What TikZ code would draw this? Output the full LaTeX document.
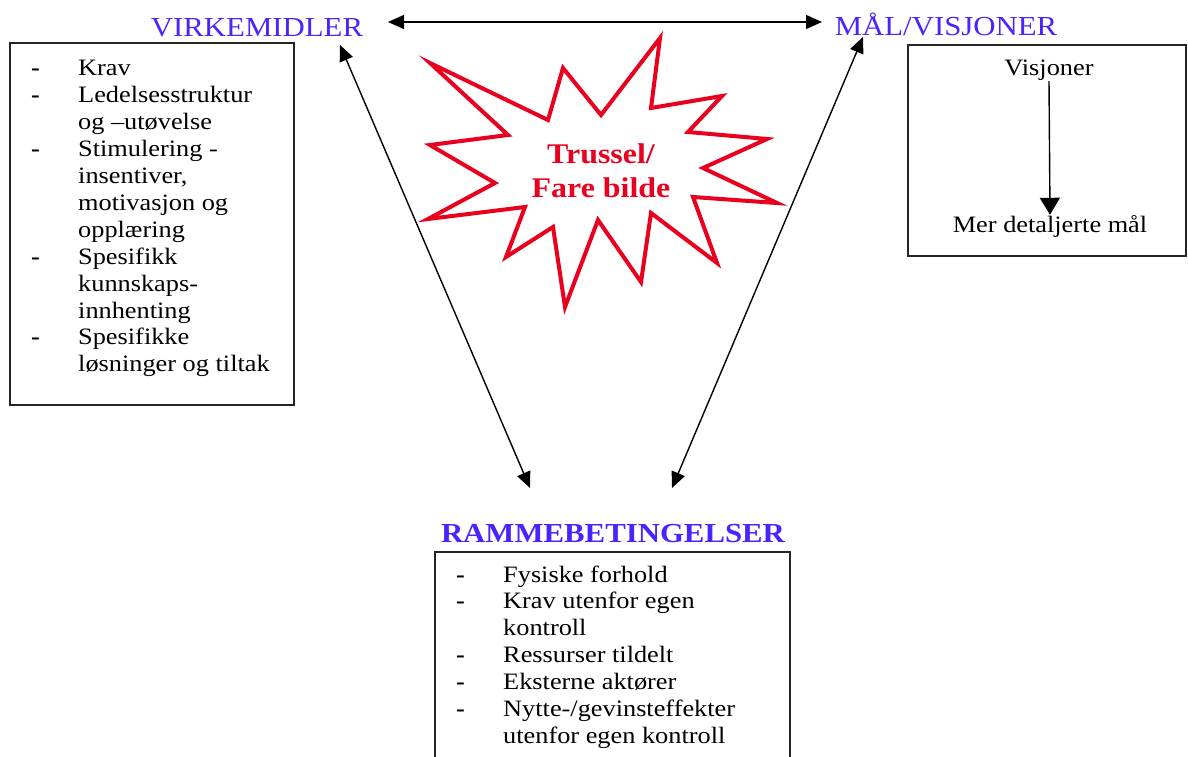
\documentclass[tikz,border=0pt]{standalone}
\usepackage{fontspec}
\setmainfont[FakeStretch=1.12]{Liberation Serif}
\usetikzlibrary{arrows.meta}
\definecolor{headblue}{RGB}{72,36,255}
\definecolor{threatred}{RGB}{232,0,30}
\newcommand\itm[1]{\makebox[47pt][l]{\textbf{-}}#1}
\newcommand\cont[1]{\hspace*{47pt}#1}
\begin{document}
\begin{tikzpicture}[x=1pt,y=-1pt,
  head/.style={anchor=base,inner sep=0pt,text=headblue,font=\fontsize{27.5}{32}\selectfont},
  body/.style={anchor=base west,inner sep=0pt,font=\fontsize{23.5}{26.9}\selectfont},
  frame/.style={draw=black!85,line width=1.3pt},
  link/.style={draw=black,line width=1.4pt,-{Triangle[length=17pt,width=20pt]}},
  both/.style={draw=black,line width=1.4pt,{Triangle[length=16pt,width=14pt]}-{Triangle[length=16pt,width=14pt]}}]
\useasboundingbox (0,0) rectangle (1188,757);
\clip (0,0) rectangle (1188,757);

% frames
\draw[frame] (10,43) rectangle (294,405);
\draw[frame] (908,45) rectangle (1186,256);
\draw[frame] (435,552) rectangle (790,800);

% headings
\node[head] (virk) at (257,37) {VIRKEMIDLER};
\node[head] (maal) at (946,36) {MÅL/VISJONER};
\node[head,font=\fontsize{27.5}{32}\selectfont\bfseries] (ramme) at (613,542) {RAMMEBETINGELSER};

% lists
\node[body] (vlist) at (31,76) {\begin{tabular}[t]{@{}l@{}}
\itm{Krav}\\
\itm{Ledelsesstruktur}\\
\cont{og --utøvelse}\\
\itm{Stimulering -}\\
\cont{insentiver,}\\
\cont{motivasjon og}\\
\cont{opplæring}\\
\itm{Spesifikk}\\
\cont{kunnskaps-}\\
\cont{innhenting}\\
\itm{Spesifikke}\\
\cont{løsninger og tiltak}
\end{tabular}};
\node[body] (rlist) at (456,582) {\begin{tabular}[t]{@{}l@{}}
\itm{Fysiske forhold}\\
\itm{Krav utenfor egen}\\
\cont{kontroll}\\
\itm{Ressurser tildelt}\\
\itm{Eksterne aktører}\\
\itm{Nytte-/gevinsteffekter}\\
\cont{utenfor egen kontroll}
\end{tabular}};

% goals box
\node[body,anchor=base] (visj) at (1049,76) {Visjoner};
\node[body,anchor=base] (mer) at (1050,232) {Mer detaljerte mål};
\draw[link] (visj.south) -- (mer.north);

% threat star
\draw[threatred,line width=4pt,fill=white,line join=miter]
  (430,63) -- (548,120) -- (563,68) -- (601,115) -- (660,38) -- (651,108)
  -- (722,96) -- (688,132) -- (767,139) -- (703,168) -- (777,203) -- (693,197)
  -- (717,263) -- (651,213) -- (641,282) -- (598,220) -- (565,307) -- (553,227)
  -- (506,257) -- (525,207) -- (428,219) -- (495,183) -- (430,145) -- (508,135) -- cycle;
\node[anchor=base,inner sep=0pt,text=threatred,font=\fontsize{28.5}{33}\selectfont\bfseries] (threat) at (601,164)
  {\begin{tabular}[t]{@{}c@{}}Trussel/\\Fare bilde\end{tabular}};

% connectors between the three corners
\coordinate (vR) at (388,22);
\coordinate (mL) at (822,22);
\coordinate (vB) at (340,45);
\coordinate (mB) at (863,37);
\coordinate (rL) at (530,488);
\coordinate (rR) at (672,488);
\draw[both] (vR) -- (mL);
\draw[both] (vB) -- (rL);
\draw[both] (mB) -- (rR);
\end{tikzpicture}
\end{document}
